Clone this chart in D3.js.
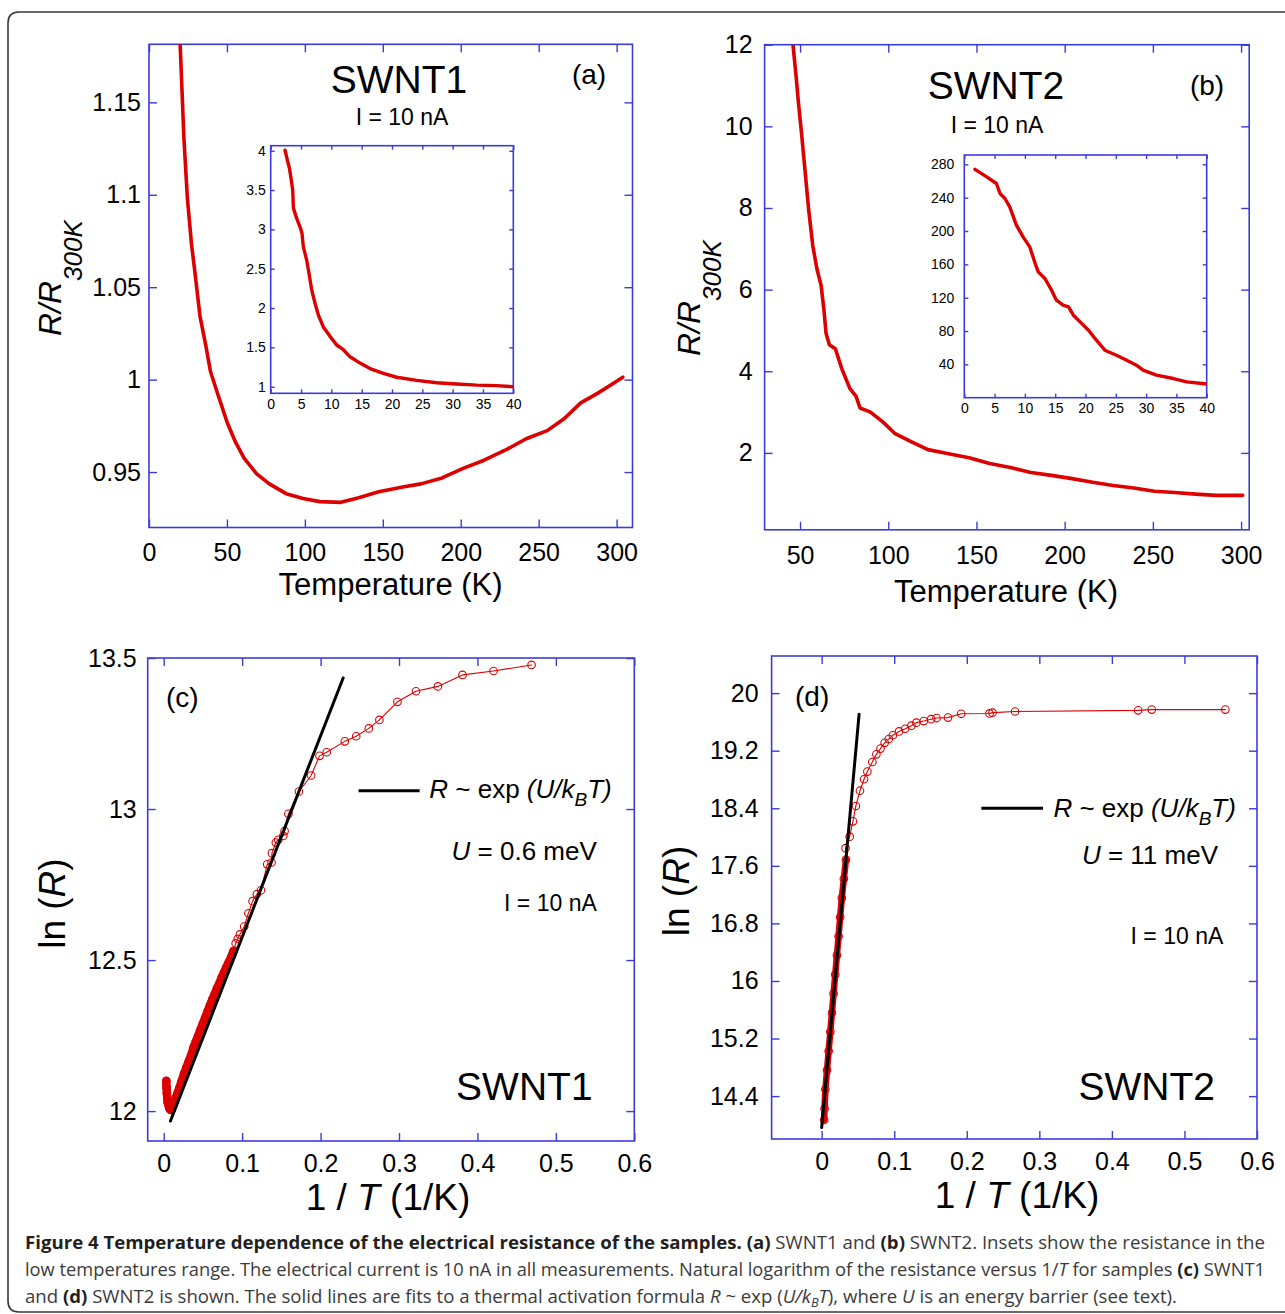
<!DOCTYPE html>
<html><head><meta charset="utf-8">
<script src="https://cdn.jsdelivr.net/npm/d3@7"></script>
<style>
body{margin:0;background:#fff}
svg{display:block}
text{font-family:"Liberation Sans",Arial,Helvetica,sans-serif}
text.cap{font-family:"Open Sans","Noto Sans",sans-serif}
</style>
</head><body>
<svg id="chart" width="1285" height="1314"></svg>
<script>
// ---------------- DATA ----------------
// (a) SWNT1 R/R300K vs T
const aT = [20,22.4,24.6,27.3,29.2,32.7,36.7,39.4,44.3,50.2,55.6,61,69.1,77.2,88,98.8,109.6,123,134,147.4,163.6,174.5,188,201.5,215,228.5,242,255.5,266.3,277,288,296,304];
const aR = [1.181,1.1306,1.0985,1.0729,1.060,1.0344,1.0173,1.0045,0.9917,0.9767,0.966,0.9575,0.949,0.9436,0.9383,0.9357,0.934,0.9336,0.936,0.9393,0.942,0.9436,0.9468,0.952,0.9564,0.9618,0.968,0.9724,0.9788,0.9874,0.9927,0.997,1.0013];
const aXTicks = [0,50,100,150,200,250,300];
const aYTicks = [0.95,1,1.05,1.1,1.15];
// (a) inset
const aInT = [2.36,2.75,3.08,3.35,3.63,3.74,4.29,4.84,5.16,5.38,5.93,6.32,6.76,7.31,7.86,8.68,9.78,10.88,11.98,13.08,14.73,16.37,18.57,20.77,24.07,27.36,30.66,33.96,37.25,40];
const aInR = [4.008,3.88,3.78,3.65,3.50,3.27,3.14,3.03,2.95,2.78,2.61,2.44,2.23,2.06,1.91,1.76,1.64,1.53,1.47,1.38,1.30,1.23,1.17,1.12,1.08,1.05,1.034,1.02,1.013,1.0];
const inXTicks = [0,5,10,15,20,25,30,35,40];
const aInYTicks = [1,1.5,2,2.5,3,3.5,4];
// (b) SWNT2 R/R300K vs T
const bT = [46,47.9,49.1,50.7,52.6,54.9,57.2,59.6,61.9,63.5,64.7,66.6,70,73.6,78.2,81.7,84,89.9,96.9,103.9,113.2,122.5,134.2,145.8,157.5,169.2,180.8,192.5,204.2,215.8,227.5,239.2,250.9,262.5,274.1,285.8,295,300.9];
const bR = [12,11.16,10.57,9.89,9.02,7.95,7.08,6.5,6.11,5.52,4.94,4.65,4.55,4.07,3.58,3.39,3.1,3.0,2.76,2.47,2.27,2.08,1.98,1.88,1.74,1.64,1.52,1.45,1.37,1.28,1.20,1.14,1.06,1.03,0.99,0.96,0.96,0.96];
const bXTicks = [50,100,150,200,250,300];
const bYTicks = [2,4,6,8,10,12];
// (b) inset
const bInT = [1.76,3.7,5.3,5.9,6.7,7.5,8.6,9.7,10.8,11.7,12.2,13.3,14.4,15.2,16.3,17.2,18,19.1,20.5,21.8,23.2,25.1,26.8,28.4,29.5,31.7,34.5,36.7,40];
const bInR = [274,265,257,245,239,229,207,193,181,161,151,143,129,117,111,109,99,91,81,69,57,51,45,39,33,27,23,19,16.4];
const bInYTicks = [40,80,120,160,200,240,280];
// (c) SWNT1 ln(R) vs 1/T : dense part and sparse part
const cDenseX = [0.0033,0.0036,0.004,0.0045,0.005,0.006,0.007,0.008,0.009,0.010,0.012,0.014,0.016,0.018,0.020,0.023,0.026,0.029,0.032,0.035,0.038,0.041,0.044,0.047,0.050,0.053,0.056,0.059,0.062,0.065,0.068,0.071,0.074,0.077,0.080,0.083,0.086,0.089];
const cDenseY = [12.10,12.08,12.06,12.045,12.03,12.02,12.012,12.006,12.004,12.006,12.018,12.032,12.047,12.062,12.077,12.1,12.124,12.145,12.165,12.185,12.21,12.23,12.25,12.27,12.29,12.31,12.33,12.35,12.37,12.387,12.407,12.423,12.443,12.46,12.477,12.493,12.51,12.53];
const cSparseX = [0.0918,0.0945,0.0972,0.1026,0.108,0.1133,0.1187,0.124,0.132,0.1375,0.138,0.143,0.146,0.1525,0.1541,0.159,0.1724,0.188,0.1987,0.2078,0.2309,0.2454,0.2615,0.275,0.298,0.3217,0.3496,0.381,0.4205,0.469];
const cSparseY = [12.555,12.57,12.585,12.611,12.655,12.695,12.718,12.731,12.817,12.823,12.854,12.889,12.898,12.911,12.927,12.984,13.058,13.111,13.176,13.188,13.224,13.241,13.267,13.295,13.355,13.390,13.406,13.444,13.457,13.477];
const cFitX = [0.0086,0.2288];
const cFitY = [11.967,13.434];
const cXTicks = [0,0.1,0.2,0.3,0.4,0.5,0.6];
const cYTicks = [12,12.5,13,13.5];
// (d) SWNT2 ln(R) vs 1/T
const dDenseX = [0.0034,0.004,0.0051,0.0074,0.0096,0.0119,0.0142,0.0164,0.0187,0.021,0.0233,0.0255,0.0278,0.0306,0.0335];
const dDenseY = [14.069,14.229,14.495,14.761,15.027,15.293,15.559,15.824,16.090,16.356,16.622,16.888,17.154,17.42,17.686];
const dSparseX = [0.0329,0.0386,0.0431,0.0471,0.0528,0.0584,0.063,0.0698,0.0754,0.0811,0.0868,0.0925,0.0981,0.1066,0.1151,0.1237,0.1305,0.1407,0.1509,0.1583,0.1741,0.1923,0.2314,0.2354,0.2666,0.4362,0.4549,0.5564];
const dSparseY = [17.846,18.005,18.218,18.431,18.644,18.803,18.91,19.043,19.149,19.229,19.309,19.362,19.415,19.468,19.505,19.548,19.59,19.612,19.638,19.654,19.66,19.713,19.718,19.729,19.745,19.761,19.771,19.771];
const dFitX = [0,0.0516];
const dFitY = [13.963,19.707];
const dXTicks = [0,0.1,0.2,0.3,0.4,0.5,0.6];
const dYTicks = [14.4,15.2,16,16.8,17.6,18.4,19.2,20];

// ---------------- DRAW ----------------
const svg = d3.select("#chart");
const BLUE = "#3b3bdc", RED = "#dc0000";
let clipN = 0;

// outer rounded box
svg.append("path")
  .attr("d","M1295,12 H19 Q8,12 8,23 V1301 Q8,1312 19,1312 H1295")
  .attr("fill","none").attr("stroke","#3a3a3a").attr("stroke-width",1.6);

function panel(o){
  const x = d3.scaleLinear().domain(o.xDomain).range([o.left,o.right]);
  const y = d3.scaleLinear().domain(o.yDomain).range([o.bottom,o.top]);
  const g = svg.append("g");
  if(o.bg) g.append("rect").attr("x",o.left).attr("y",o.top).attr("width",o.right-o.left).attr("height",o.bottom-o.top).attr("fill","#fff");
  const fmt = d=>String(d);
  const ax = [
    g.append("g").attr("transform",`translate(0,${o.bottom})`).call(d3.axisBottom(x).tickValues(o.xTicks).tickSize(-o.tl).tickPadding(o.xPad).tickFormat(fmt)),
    g.append("g").attr("transform",`translate(0,${o.top})`).call(d3.axisTop(x).tickValues(o.xTicks).tickSize(-o.tl).tickFormat("")),
    g.append("g").attr("transform",`translate(${o.left},0)`).call(d3.axisLeft(y).tickValues(o.yTicks).tickSize(-o.tl).tickPadding(o.yPad).tickFormat(fmt)),
    g.append("g").attr("transform",`translate(${o.right},0)`).call(d3.axisRight(y).tickValues(o.yTicks).tickSize(-o.tl).tickFormat(""))
  ];
  ax.forEach(a=>a.attr("font-size",o.fs));
  g.selectAll(".domain").remove();
  g.selectAll(".tick line").attr("stroke",BLUE).attr("stroke-width",1.4);
  g.selectAll(".tick text").attr("fill","#000");
  g.append("rect").attr("x",o.left).attr("y",o.top).attr("width",o.right-o.left).attr("height",o.bottom-o.top)
    .attr("fill","none").attr("stroke",BLUE).attr("stroke-width",1.6);
  const id = "clip"+(clipN++);
  svg.append("clipPath").attr("id",id).append("rect").attr("x",o.left).attr("y",o.top).attr("width",o.right-o.left).attr("height",o.bottom-o.top);
  const data = g.append("g").attr("clip-path",`url(#${id})`);
  return {x,y,g,data};
}

function curve(p, xs, ys, w, color){
  const pts = xs.map((v,i)=>[v,ys[i]]);
  p.data.append("path").datum(pts)
    .attr("d", d3.line().x(d=>p.x(d[0])).y(d=>p.y(d[1])))
    .attr("fill","none").attr("stroke",color).attr("stroke-width",w)
    .attr("stroke-linejoin","round").attr("stroke-linecap","round");
}
function circles(p, xs, ys){
  p.data.append("g").selectAll("circle").data(xs.map((v,i)=>[v,ys[i]])).join("circle")
    .attr("cx",d=>p.x(d[0])).attr("cy",d=>p.y(d[1])).attr("r",3.8)
    .attr("fill","none").attr("stroke",RED).attr("stroke-width",1.1);
}
function txt(x,y,parts,size,anchor,rot){
  const t = svg.append("text").attr("font-size",size).attr("text-anchor",anchor||"start").attr("fill","#000");
  if(rot) t.attr("transform",`translate(${x},${y}) rotate(-90)`);
  else t.attr("x",x).attr("y",y);
  parts.forEach(p=>{
    const s = t.append("tspan").text(p[0]);
    if(p[1]&&p[1].includes("i")) s.attr("font-style","italic");
    if(p[2]) s.attr("font-size",p[2]);
    if(p[3]) s.attr("dy",p[3]);
  });
  return t;
}

// ---- Panel (a)
const pa = panel({left:149,right:632.5,top:44.3,bottom:527.5,xDomain:[0,310.2],yDomain:[0.92,1.1814],
  xTicks:aXTicks,yTicks:aYTicks,tl:8,fs:25,xPad:16,yPad:8});
curve(pa,aT,aR,3.6,RED);
const pai = panel({left:270.7,right:513.3,top:145.7,bottom:393.3,xDomain:[0,40],yDomain:[0.916,4.064],
  xTicks:inXTicks,yTicks:aInYTicks,tl:4,fs:14,xPad:6,yPad:5,bg:true});
curve(pai,aInT,aInR,3.4,RED);
txt(399,93,[["SWNT1"]],39,"middle");
txt(589,83.5,[["(a)"]],28,"middle");
txt(402,124.5,[["I = 10 nA"]],23,"middle");
txt(390.6,595,[["Temperature (K)"]],31,"middle");
txt(61,336,[["R/R","i"],["300K","i",26,21]],32,"start",true);

// ---- Panel (b)
const pb = panel({left:764.6,right:1249.2,top:44.7,bottom:529.8,xDomain:[29.9,304.6],yDomain:[0.116,12],
  xTicks:bXTicks,yTicks:bYTicks,tl:8,fs:25,xPad:16.5,yPad:12});
curve(pb,bT,bR,3.6,RED);
const pbi = panel({left:964.3,right:1206.7,top:155,bottom:397.7,xDomain:[0,40],yDomain:[0,291.2],
  xTicks:inXTicks,yTicks:bInYTicks,tl:4,fs:14,xPad:5.3,yPad:10,bg:true});
curve(pbi,bInT,bInR,3.4,RED);
txt(996,99,[["SWNT2"]],39,"middle");
txt(1207,95,[["(b)"]],28,"middle");
txt(997,132.5,[["I = 10 nA"]],23,"middle");
txt(1006,602,[["Temperature (K)"]],31,"middle");
txt(700,356,[["R/R","i"],["300K","i",26,21]],32,"start",true);

// ---- Panel (c)
const pc = panel({left:147.7,right:634.3,top:658,bottom:1141,xDomain:[-0.0204,0.6],yDomain:[11.901,13.5],
  xTicks:cXTicks,yTicks:cYTicks,tl:8,fs:25,xPad:13,yPad:11});
curve(pc,cDenseX.concat(cSparseX),cDenseY.concat(cSparseY),1.1,RED);
curve(pc,cDenseX,cDenseY,8.5,RED);
circles(pc,cDenseX.concat(cSparseX),cDenseY.concat(cSparseY));
curve(pc,cFitX,cFitY,3,"#000");
txt(166,707,[["(c)"]],28,"start");
txt(592.6,1100,[["SWNT1"]],39,"end");
svg.append("line").attr("x1",358.6).attr("x2",419.6).attr("y1",790.7).attr("y2",790.7).attr("stroke","#000").attr("stroke-width",3);
txt(429.3,798.4,[["R","i"],[" ~ exp",""],[" (U/k","i"],["B","i",19,8],["T)","i",null,-8]],26,"start");
txt(596.8,859.6,[["U","i"],[" = 0.6 meV"]],26,"end");
txt(596.8,911.3,[["I = 10 nA"]],23,"end");
txt(388,1210,[["1 / "],["T","i"],[" (1/K)"]],37,"middle");
txt(65,903.6,[["ln ("],["R","i"],[")"]],37,"middle",true);

// ---- Panel (d)
const pd = panel({left:771.6,right:1257,top:656,bottom:1139,xDomain:[-0.069,0.6],yDomain:[13.804,20.516],
  xTicks:dXTicks,yTicks:dYTicks,tl:8,fs:25,xPad:13,yPad:13});
curve(pd,dDenseX.concat(dSparseX),dDenseY.concat(dSparseY),1.1,RED);
curve(pd,dDenseX,dDenseY,6.5,RED);
circles(pd,dDenseX.concat(dSparseX),dDenseY.concat(dSparseY));
curve(pd,dFitX,dFitY,3,"#000");
txt(795,706,[["(d)"]],28,"start");
txt(1215,1100,[["SWNT2"]],39,"end");
svg.append("line").attr("x1",981.4).attr("x2",1043).attr("y1",808.3).attr("y2",808.3).attr("stroke","#000").attr("stroke-width",3);
txt(1053.4,816.8,[["R","i"],[" ~ exp",""],[" (U/k","i"],["B","i",19,8],["T)","i",null,-8]],26,"start");
txt(1218,864,[["U","i"],[" = 11 meV"]],26,"end");
txt(1223.3,943.8,[["I = 10 nA"]],23,"end");
txt(1017,1208,[["1 / "],["T","i"],[" (1/K)"]],37,"middle");
txt(689,891,[["ln ("],["R","i"],[")"]],37,"middle",true);

// ---- Caption
const capLines = [
  {y:1249,len:1240,parts:[["Figure 4 Temperature dependence of the electrical resistance of the samples.","b"],[" ",""],["(a)","b"],[" SWNT1 and ",""],["(b)","b"],[" SWNT2. Insets show the resistance in the",""]]},
  {y:1276,len:1240,parts:[["low temperatures range. The electrical current is 10 nA in all measurements. Natural logarithm of the resistance versus 1/",""],["T","i"],[" for samples ",""],["(c)","b"],[" SWNT1",""]]},
  {y:1303,len:1152,parts:[["and ",""],["(d)","b"],[" SWNT2 is shown. The solid lines are fits to a thermal activation formula ",""],["R","i"],[" ~ exp (",""],["U/k","i"],["B","sub"],["T","i2"],["), where ",""],["U","i"],[" is an energy barrier (see text).",""]]}
];
capLines.forEach(l=>{
  const t = svg.append("text").attr("class","cap").attr("x",25).attr("y",l.y).attr("font-size",17.5)
    .attr("fill","#3a3a3a")
    .attr("textLength",l.len).attr("lengthAdjust","spacingAndGlyphs").attr("xml:space","preserve");
  l.parts.forEach(p=>{
    const s = t.append("tspan").text(p[0]);
    if(p[1]==="b") s.attr("font-weight","700").attr("fill","#231f20");
    if(p[1]==="i") s.attr("font-style","italic");
    if(p[1]==="sub") s.attr("font-style","italic").attr("font-size",12).attr("dy",4);
    if(p[1]==="i2") s.attr("font-style","italic").attr("dy",-4);
  });
});
</script>
</body></html>
